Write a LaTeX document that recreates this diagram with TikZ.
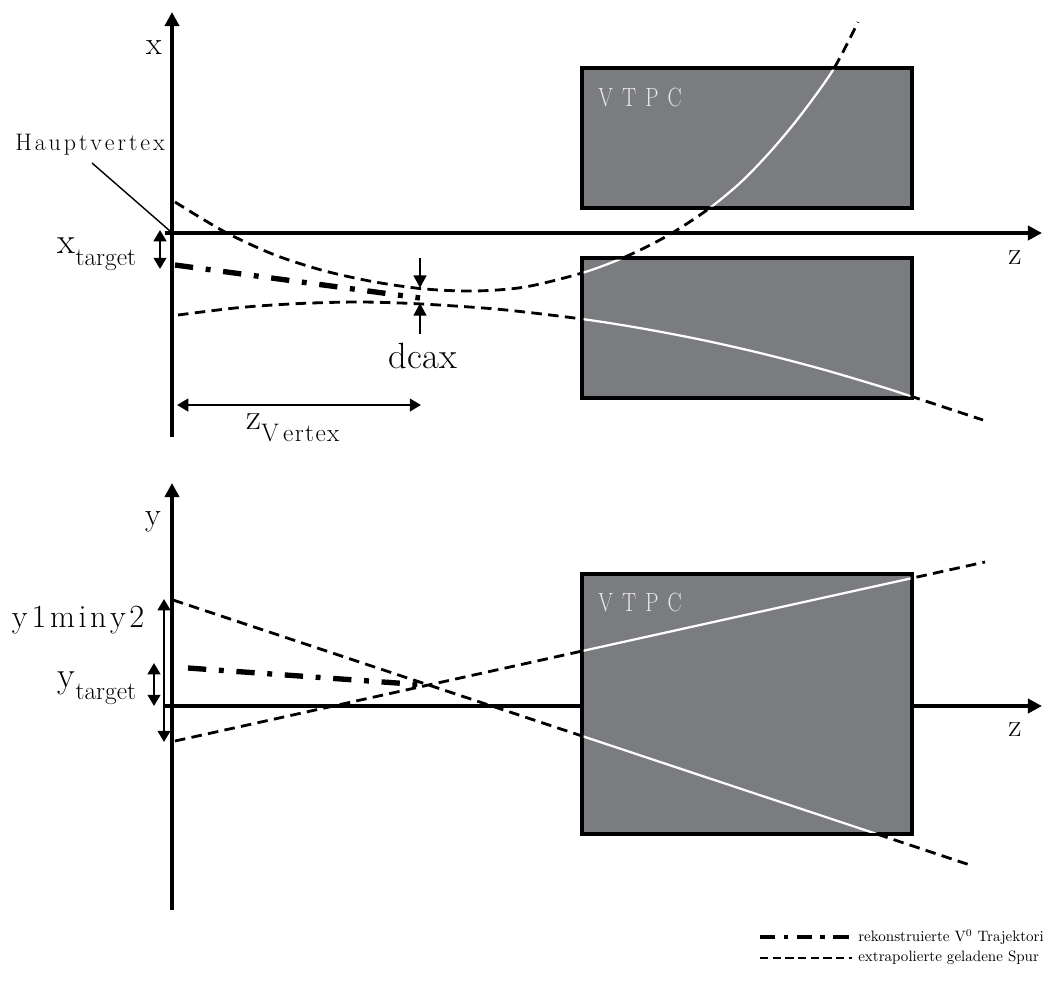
\documentclass[tikz,border=0pt]{standalone}
\usepackage{fontspec}
\usetikzlibrary{arrows.meta}
\definecolor{detgray}{RGB}{123,124,128}
\definecolor{vtpctext}{RGB}{232,232,232}
\newcommand{\lblsub}[1]{\raisebox{-0.32em}{\fontsize{18}{18}\selectfont #1}}
\newcommand{\hk}{\kern2.1pt}
\newcommand{\vk}{\kern6.5pt}
\tikzset{
  axisline/.style={line width=3pt, -{Triangle[length=10pt,width=10pt]}},
  track/.style={line width=2pt, dash pattern=on 7.5pt off 4.5pt},
  trackin/.style={line width=1.6pt, draw=white},
  vzero/.style={line width=3.8pt, dash pattern=on 13pt off 9pt on 3.5pt off 9pt},
  det/.style={draw=black, line width=2.2pt, fill=detgray},
  dimarrow/.style={line width=1.6pt, {Triangle[length=8pt,width=9pt]}-{Triangle[length=8pt,width=9pt]}},
  pointer/.style={line width=1.6pt, -{Triangle[length=9pt,width=9pt]}},
  lab/.style={inner sep=0pt, font=\fontsize{26}{30}\selectfont},
  axlab/.style={inner sep=0pt, font=\fontsize{23}{26}\selectfont},
  vtpc/.style={inner sep=0pt, anchor=west, text=vtpctext, font=\fontsize{15}{18}\selectfont},
  legtext/.style={inner sep=0pt, anchor=west, font=\fontsize{10.7}{13}\selectfont},
}
\begin{document}
\begin{tikzpicture}[x=0.025cm,y=-0.025cm]
\useasboundingbox (0,0) rectangle (1043,987);
% ---------- top panel ----------
\coordinate (xaxB) at (172,437);
\coordinate (xaxT) at (172,12);
\coordinate (zaxL) at (165,233);
\coordinate (zaxR) at (1042,233);
\draw[axisline] (xaxB) -- (xaxT);
\draw[axisline] (zaxL) -- (zaxR);
\node[axlab] (xlab) at (154,48) {x};
\node[axlab] (zlab1) at (1015,258) {z};

\def\curveA{plot[smooth] coordinates {(175,202) (225,232) (275,255) (325,271) (375,282) (425,289) (475,291) (525,287) (582,273) (625,257) (667,236) (707,210) (740,183) (770,152) (800,116) (833,70) (858,22)}}
\def\curveB{plot[smooth] coordinates {(178,315) (240,307.5) (300,303.5) (360,302) (420,303.9) (500,309.4) (582,319) (640,328.1) (700,339.5) (760,353) (820,368.6) (880,386.3) (912,396.6) (983,420)}}

\draw[track] \curveA;
\draw[track] \curveB;
\draw[vzero] (175,265) -- (420,298);

\path[det] (582,68) rectangle (912,208);
\path[det] (582,258) rectangle (912,398);
\node[vtpc] (vtpc1) at (598,97) {\scalebox{1}[1.25]{V\vk T\vk P\vk C}};
\begin{scope}
  \clip (583.5,69.5) rectangle (910.5,206.5) (583.5,259.5) rectangle (910.5,396.5);
  \draw[trackin] \curveA;
  \draw[trackin] \curveB;
\end{scope}

% Hauptvertex
\node[inner sep=0pt, font=\fontsize{17}{20}\selectfont] (hv) at (90,145) {H\hk a\hk u\hk p\hk t\hk v\hk e\hk r\hk t\hk e\hk x};
\coordinate (hvS) at (92,163);
\coordinate (hvE) at (170,231);
\draw[line width=1pt] (hvS) -- (hvE);

% x_target
\coordinate (xtT) at (160,230);
\coordinate (xtB) at (160,269);
\draw[dimarrow] (xtT) -- (xtB);
\node[lab] (xtarget) at (97,254) {x\lblsub{target}};

% dcax
\coordinate (dcaT1) at (420,258);
\coordinate (dcaT2) at (420,288);
\coordinate (dcaB1) at (420,334);
\coordinate (dcaB2) at (420,303);
\draw[pointer] (dcaT1) -- (dcaT2);
\draw[pointer] (dcaB1) -- (dcaB2);
\node[lab] (dcax) at (423,356) {dcax};

% z_Vertex
\coordinate (zvL) at (177,405);
\coordinate (zvR) at (421,405);
\draw[dimarrow] (zvL) -- (zvR);
\node[lab] (zvertex) at (293,428) {z\lblsub{V\kern3pt e\kern1pt r\kern1pt t\kern1pt e\kern1pt x}};

% ---------- bottom panel ----------
\coordinate (yaxB) at (172,910);
\coordinate (yaxT) at (172,483);
\coordinate (zaxL2) at (165,706);
\coordinate (zaxR2) at (1042,706);
\draw[axisline] (yaxB) -- (yaxT);
\draw[axisline] (zaxL2) -- (zaxR2);
\node[axlab] (ylab) at (153,522) {y};
\node[axlab] (zlab2) at (1015,730) {z};

\coordinate (tA1) at (173,600);
\coordinate (tA2) at (973,866);
\coordinate (tB1) at (175,741);
\coordinate (tB2) at (985,562);
\draw[track] (tA1) -- (tA2);
\draw[track] (tB1) -- (tB2);
\draw[vzero] (188,668) -- (425,685);

\path[det] (582,574) rectangle (912,834);
\node[vtpc] (vtpc2) at (598,602) {\scalebox{1}[1.25]{V\vk T\vk P\vk C}};
\begin{scope}
  \clip (583.5,575.5) rectangle (910.5,832.5);
  \draw[trackin] (tA1) -- (tA2);
  \draw[trackin] (tB1) -- (tB2);
\end{scope}

% y1miny2 and y_target
\coordinate (ymT) at (164,599);
\coordinate (ymB) at (164,742);
\draw[dimarrow] (ymT) -- (ymB);
\node[inner sep=0pt, font=\fontsize{23}{26}\selectfont] (y1miny2) at (78,620) {y\kern3pt 1\kern2.5pt m\kern2.5pt i\kern2.5pt n\kern2.5pt y\kern2.5pt 2};
\coordinate (ytT) at (154,663);
\coordinate (ytB) at (154,706);
\draw[dimarrow] (ytT) -- (ytB);
\node[lab] (ytarget) at (97,688) {y\lblsub{target}};

% ---------- legend ----------
\coordinate (l1a) at (760,937);
\coordinate (l1b) at (852,937);
\coordinate (l2a) at (760,958);
\coordinate (l2b) at (852,958);
\draw[vzero, line width=3.2pt, dash pattern=on 11pt off 6pt on 3pt off 6pt] (l1a) -- (l1b);
\draw[track, line width=1.5pt, dash pattern=on 6pt off 3pt] (l2a) -- (l2b);
\node[legtext] (leg1) at (858,937) {rekonstruierte V\textsuperscript{0} Trajektorie};
\node[legtext] (leg2) at (858,958) {extrapolierte geladene Spur};
\end{tikzpicture}
\end{document}
